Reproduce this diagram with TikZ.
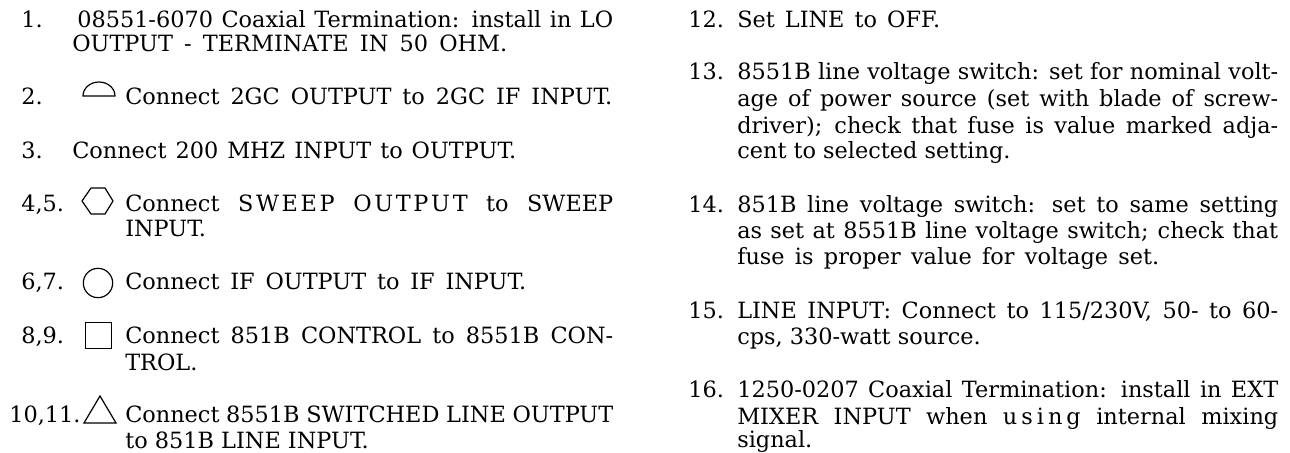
\documentclass[tikz,border=0pt]{standalone}
\usepackage{fontspec}
\setmainfont{DejaVu Serif}
\usepackage{tikz}

% stretch one printed line to a width given in picture units
\newcommand{\fitline}[2]{\makebox[\dimexpr #1pt*3/4\relax][s]{#2}}

\begin{document}
\begin{tikzpicture}[x=0.75pt,y=-0.75pt]
    \tikzstyle{txt}=[inner sep=0, anchor=base west, font=\fontsize{16.8}{21}\selectfont];
    \tikzstyle{sym}=[draw, line width=0.9pt];

    \useasboundingbox (0,0) rectangle (1290,453);

    % left column
    \node[txt] at (21,28) (n1) {1.};
    \node[txt] at (77,28) (a1) {\fitline{536}{08551-6070 Coaxial Termination: install in LO}};
    \node[txt] at (72,52) (a1b) {\fitline{435}{OUTPUT - TERMINATE IN 50 OHM.}};
    \node[txt] at (21,105) (n2) {2.};
    \node[txt] at (125,105) (a2) {\fitline{487}{Connect 2GC OUTPUT to 2GC IF INPUT.}};
    \node[txt] at (21,158) (n3) {3.};
    \node[txt] at (72,158) (a3) {\fitline{444}{Connect 200 MHZ INPUT to OUTPUT.}};
    \node[txt] at (21,211) (n4) {4,5.};
    \node[txt] at (125,211) (a4) {\fitline{488}{Connect S\kern2pt W\kern2pt E\kern2pt E\kern2pt P O\kern2pt U\kern2pt T\kern2pt P\kern2pt U\kern2pt T to SWEEP}};
    \node[txt] at (125,236) (a4b) {INPUT.};
    \node[txt] at (21,289) (n6) {6,7.};
    \node[txt] at (125,289) (a6) {\fitline{401}{Connect IF OUTPUT to IF INPUT.}};
    \node[txt] at (21,343) (n8) {8,9.};
    \node[txt] at (125,343) (a8) {\fitline{488}{Connect 851B CONTROL to 8551B CON-}};
    \node[txt] at (125,370) (a8b) {TROL.};
    \node[txt] at (9,422) (n10) {10,11.};
    \node[txt] at (125,422) (a10) {\fitline{488}{Connect 8551B SWITCHED LINE OUTPUT}};
    \node[txt] at (125,448) (a10b) {to 851B LINE INPUT.};

    % symbols
    \draw[sym] (83,96) -- (115,96) arc (0:-180:16 and 14) -- cycle;
    \draw[sym] (82,201) -- (91,188) -- (105,188) -- (113,201) -- (105,214) -- (91,214) -- cycle;
    \node[sym, circle, minimum size=22pt, inner sep=0] at (98,283) (circ) {};
    \node[sym, rectangle, minimum size=20pt, inner sep=0] at (98.5,335.5) (squ) {};
    \draw[sym] (84,423) -- (100,396) -- (116,423) -- cycle;

    % right column
    \node[txt] at (688,28) (n12) {12.};
    \node[txt] at (737,28) (b12) {\fitline{203}{Set LINE to OFF.}};
    \node[txt] at (688,80) (n13) {13.};
    \node[txt] at (737,80) (b13) {\fitline{541}{8551B line voltage switch: set for nominal volt-}};
    \node[txt] at (737,107) (b13b) {\fitline{541}{age of power source (set with blade of screw-}};
    \node[txt] at (737,133) (b13c) {\fitline{541}{driver); check that fuse is value marked adja-}};
    \node[txt] at (737,159) (b13d) {cent to selected setting.};
    \node[txt] at (688,212) (n14) {14.};
    \node[txt] at (737,212) (b14) {\fitline{541}{851B line voltage switch: set to same setting}};
    \node[txt] at (737,238) (b14b) {\fitline{541}{as set at 8551B line voltage switch; check that}};
    \node[txt] at (737,264) (b14c) {\fitline{422}{fuse is proper value for voltage set.}};
    \node[txt] at (688,318) (n15) {15.};
    \node[txt] at (737,318) (b15) {\fitline{541}{LINE INPUT: Connect to 115/230V, 50- to 60-}};
    \node[txt] at (737,344) (b15b) {cps, 330-watt source.};
    \node[txt] at (688,397) (n16) {16.};
    \node[txt] at (737,397) (b16) {\fitline{541}{1250-0207 Coaxial Termination: install in EXT}};
    \node[txt] at (737,424) (b16b) {\fitline{541}{MIXER INPUT when u\kern3pt s\kern3pt i\kern3pt n\kern3pt g internal mixing}};
    \node[txt] at (737,447) (b16c) {signal.};
\end{tikzpicture}
\end{document}
